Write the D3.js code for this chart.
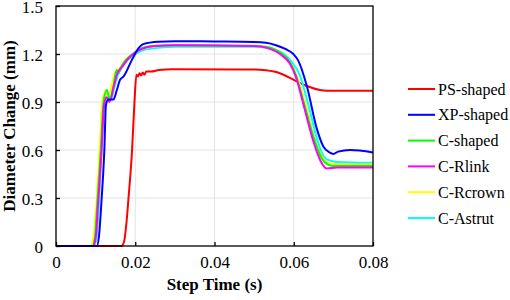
<!DOCTYPE html>
<html><head><meta charset="utf-8">
<script src="https://cdn.jsdelivr.net/npm/d3@7"></script>
<style>body{margin:0;background:#fff}svg{display:block}
svg text{font-family:"Liberation Serif","Times New Roman","DejaVu Serif",serif !important;fill:#000}</style>
</head><body>
<script>
const xTicks = [0, 0.02, 0.04, 0.06, 0.08];
const xTickLabels = ["0", "0.02", "0.04", "0.06", "0.08"];
const yTicks = [0, 0.3, 0.6, 0.9, 1.2, 1.5];
const yTickLabels = ["0", "0.3", "0.6", "0.9", "1.2", "1.5"];
const seriesNames = ["PS-shaped", "XP-shaped", "C-shaped", "C-Rlink", "C-Rcrown", "C-Astrut"];
const seriesColors = ["#ff0000", "#0000ff", "#00ff00", "#ff00ff", "#ffff00", "#00ffff"];

const psShaped = [[0,0],[0.0165,0],[0.0172,0.03],[0.0178,0.15],[0.0183,0.3],[0.0192,0.6],[0.0198,0.9],[0.0203,1.07],[0.0207,1.06],[0.0211,1.08],[0.0215,1.065],[0.0219,1.085],[0.0223,1.07],[0.0228,1.09],[0.024,1.09],[0.026,1.10],[0.0292,1.105],[0.05,1.103],[0.053,1.098],[0.0565,1.08],[0.0599,1.04],[0.0633,1.0],[0.0666,0.975],[0.0683,0.97],[0.08,0.97]];
const xpShaped = [[0,0],[0.0103,0],[0.0108,0.05],[0.01153,0.3],[0.0122,0.6],[0.0126,0.88],[0.0132,0.915],[0.0145,0.915],[0.0153,0.97],[0.0162,1.04],[0.017,1.058],[0.0191,1.16],[0.0208,1.235],[0.022,1.262],[0.0258,1.277],[0.03,1.28],[0.04,1.278],[0.05,1.275],[0.053,1.27],[0.0555,1.255],[0.058,1.23],[0.0599,1.20],[0.0611,1.16],[0.0633,1.0],[0.0658,0.735],[0.0675,0.62],[0.069,0.585],[0.070,0.575],[0.0712,0.59],[0.0742,0.60],[0.08,0.585]];
const cShaped = [[0,0],[0.0092,0],[0.0098,0.05],[0.0105,0.3],[0.0113,0.6],[0.0120,0.9],[0.0128,0.975],[0.0136,0.92],[0.0145,1.0],[0.0153,1.1],[0.0157,1.08],[0.0165,1.12],[0.0174,1.155],[0.0191,1.195],[0.0208,1.225],[0.0242,1.25],[0.03,1.255],[0.05,1.25],[0.053,1.245],[0.0565,1.21],[0.059,1.15],[0.0605,1.07],[0.0625,0.9],[0.065,0.68],[0.067,0.55],[0.0685,0.51],[0.07,0.50],[0.08,0.50]];
const cRlink = [[0,0],[0.0093,0],[0.0100,0.05],[0.0107,0.3],[0.0115,0.6],[0.0121,0.88],[0.0128,0.93],[0.0135,0.90],[0.0146,1.0],[0.0155,1.08],[0.016,1.1],[0.017,1.13],[0.018,1.165],[0.0195,1.2],[0.0215,1.23],[0.025,1.25],[0.03,1.255],[0.05,1.25],[0.053,1.24],[0.0565,1.2],[0.059,1.14],[0.0605,1.06],[0.0625,0.88],[0.065,0.65],[0.0668,0.53],[0.0683,0.485],[0.071,0.49],[0.08,0.49]];
const cRcrown = [[0,0],[0.0087,0],[0.0094,0.05],[0.0103,0.3],[0.0110,0.6],[0.0117,0.9],[0.0124,0.96],[0.0131,0.93],[0.0142,1.02],[0.015,1.09],[0.0156,1.1],[0.0166,1.13],[0.0178,1.17],[0.0195,1.2],[0.022,1.235],[0.026,1.25],[0.03,1.255],[0.05,1.25],[0.0535,1.24],[0.057,1.2],[0.0595,1.13],[0.061,1.05],[0.063,0.88],[0.0655,0.65],[0.0675,0.545],[0.069,0.515],[0.072,0.51],[0.08,0.51]];
const cAstrut = [[0,0],[0.0095,0],[0.0102,0.05],[0.0109,0.3],[0.0115,0.6],[0.0122,0.88],[0.0130,0.94],[0.0137,0.91],[0.0148,1.0],[0.0158,1.08],[0.0168,1.12],[0.018,1.16],[0.0195,1.19],[0.021,1.215],[0.024,1.235],[0.03,1.245],[0.05,1.245],[0.0565,1.214],[0.0594,1.152],[0.0615,1.069],[0.0635,0.9],[0.066,0.66],[0.0668,0.6],[0.0685,0.54],[0.071,0.525],[0.08,0.52]];
const seriesData = [psShaped, xpShaped, cShaped, cRlink, cRcrown, cAstrut];
const drawOrder = [0, 5, 4, 2, 3, 1];

const W = 510, H = 300;
const m = {left: 56, right: 137, top: 6, bottom: 54};
const svg = d3.select("body").append("svg").attr("width", W).attr("height", H);
const x = d3.scaleLinear().domain([0, 0.08]).range([m.left, W - m.right]);
const y = d3.scaleLinear().domain([0, 1.5]).range([H - m.bottom, m.top]);

svg.append("g").selectAll("line").data(xTicks.slice(1, -1)).join("line")
  .attr("x1", d => x(d)).attr("x2", d => x(d)).attr("y1", y(0)).attr("y2", y(1.5))
  .attr("stroke", "#e3e3e3").attr("stroke-width", 1);
svg.append("g").selectAll("line").data(yTicks.slice(1, -1)).join("line")
  .attr("x1", x(0)).attr("x2", x(0.08)).attr("y1", d => y(d)).attr("y2", d => y(d))
  .attr("stroke", "#e3e3e3").attr("stroke-width", 1);

const line = d3.line().x(d => x(d[0])).y(d => y(d[1])).curve(d3.curveMonotoneX);
drawOrder.forEach(i => {
  svg.append("path").datum(seriesData[i]).attr("d", line)
    .attr("fill", "none").attr("stroke", seriesColors[i]).attr("stroke-width", 2)
    .attr("stroke-linejoin", "round");
});

svg.append("rect").attr("x", x(0)).attr("y", y(1.5)).attr("width", x(0.08) - x(0)).attr("height", y(0) - y(1.5))
  .attr("fill", "none").attr("stroke", "#000").attr("stroke-width", 1.3);

const xAxis = d3.axisBottom(x).tickValues(xTicks).tickSizeInner(-4).tickSizeOuter(0).tickPadding(10)
  .tickFormat((d, i) => xTickLabels[i]);
const gx = svg.append("g").attr("transform", `translate(0,${y(0)})`).call(xAxis);
gx.select(".domain").remove();
gx.selectAll("line").attr("stroke", "#000").attr("stroke-width", 1.3);
gx.selectAll("text").attr("font-size", 17);

const yAxis = d3.axisLeft(y).tickValues(yTicks).tickSizeInner(-4).tickSizeOuter(0).tickPadding(13)
  .tickFormat((d, i) => yTickLabels[i]);
const gy = svg.append("g").attr("transform", `translate(${x(0)},0)`).call(yAxis);
gy.select(".domain").remove();
gy.selectAll("line").attr("stroke", "#000").attr("stroke-width", 1.3);
gy.selectAll("text").attr("font-size", 17).attr("dy", "0.36em");

svg.append("text").attr("x", (x(0) + x(0.08)) / 2).attr("y", 290).attr("text-anchor", "middle")
  .attr("font-weight", "bold").attr("font-size", 17).text("Step Time (s)");
svg.append("text").attr("transform", `translate(15,${(y(0) + y(1.5)) / 2}) rotate(-90)`).attr("text-anchor", "middle")
  .attr("font-weight", "bold").attr("font-size", 17).text("Diameter Change (mm)");

const lg = svg.append("g");
seriesNames.forEach((n, i) => {
  const yy = 89 + i * 25.8;
  lg.append("line").attr("x1", 408).attr("x2", 435).attr("y1", yy).attr("y2", yy)
    .attr("stroke", seriesColors[i]).attr("stroke-width", 2);
  lg.append("text").attr("x", 438).attr("y", yy + 5.5).attr("font-size", 16).text(n);
});
</script>
</body></html>
